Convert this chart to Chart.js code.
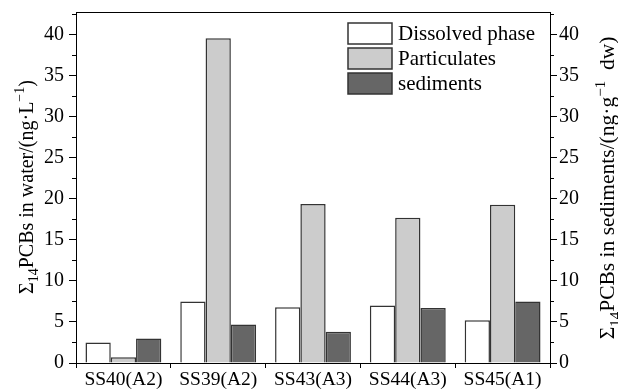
<!DOCTYPE html>
<html>
<head>
<meta charset="utf-8">
<script src="https://cdn.jsdelivr.net/npm/chart.js@4.4.0/dist/chart.umd.min.js"></script>
<style>
html, body { margin: 0; padding: 0; background: #fff; }
</style>
</head>
<body>
<canvas id="myChart" width="618" height="390"></canvas>
<script>
const sites = ['SS40(A2)', 'SS39(A2)', 'SS43(A3)', 'SS44(A3)', 'SS45(A1)'];
const dissolved = [2.5, 7.5, 6.8, 7.0, 5.2];
const particulates = [0.7, 39.6, 19.4, 17.7, 19.3];
const sediments = [3.0, 4.7, 3.8, 6.7, 7.5];
const seriesNames = ['Dissolved phase', 'Particulates', 'sediments'];
const majorTicks = [0, 5, 10, 15, 20, 25, 30, 35, 40];
const minorTicks = [2.5, 7.5, 12.5, 17.5, 22.5, 27.5, 32.5, 37.5, 42.5];
const yMax = 42.8;

const serif = '"Liberation Serif", "Times New Roman", serif';

// left / right titles, with sub and superscript parts
const leftTitle = [
	{ t: 'Σ' }, { t: '14', k: 'sub' }, { t: 'PCBs in water/(ng·L' }, { t: '−1', k: 'sup' }, { t: ')' }
];
const rightTitle = [
	{ t: 'Σ' }, { t: '14', k: 'sub' }, { t: 'PCBs in sediments/(ng·g' }, { t: '−1', k: 'sup' }, { t: '  dw)' }
];

function drawTitle(ctx, x, y, parts, size) {
	ctx.save();
	ctx.translate(x, y);
	ctx.rotate(-Math.PI / 2);
	ctx.fillStyle = '#000';
	ctx.textBaseline = 'alphabetic';
	ctx.textAlign = 'left';
	const fontOf = p => (p.k ? Math.round(size * 0.68) : size) + 'px ' + serif;
	let total = 0;
	parts.forEach(p => { ctx.font = fontOf(p); total += ctx.measureText(p.t).width; });
	let cx = -total / 2;
	parts.forEach(p => {
		ctx.font = fontOf(p);
		const dy = p.k === 'sub' ? size * 0.28 : (p.k === 'sup' ? -size * 0.42 : 0);
		ctx.fillText(p.t, cx, dy);
		cx += ctx.measureText(p.t).width;
	});
	ctx.restore();
}

const extras = {
	id: 'extras',
	afterDraw(chart) {
		const ctx = chart.ctx;
		const area = chart.chartArea;
		ctx.save();
		ctx.strokeStyle = '#000';
		ctx.lineWidth = 1;
		// top frame
		ctx.beginPath();
		ctx.moveTo(area.left, area.top + 0.5);
		ctx.lineTo(area.right, area.top + 0.5);
		ctx.stroke();
		// minor ticks
		['y', 'y2'].forEach(id => {
			const s = chart.scales[id];
			minorTicks.forEach(v => {
				const py = Math.round(s.getPixelForValue(v)) + 0.5;
				ctx.beginPath();
				if (id === 'y') { ctx.moveTo(area.left - 4, py); ctx.lineTo(area.left, py); }
				else { ctx.moveTo(area.right, py); ctx.lineTo(area.right + 4, py); }
				ctx.stroke();
			});
		});
		ctx.restore();

		// legend inside plot, top right
		ctx.save();
		chart.data.datasets.forEach((ds, i) => {
			const bx = 348, by = 23 + i * 25;
			ctx.fillStyle = ds.backgroundColor;
			ctx.fillRect(bx, by, 44, 21);
			ctx.strokeStyle = ds.borderColor;
			ctx.lineWidth = 1.5;
			ctx.strokeRect(bx, by, 44, 21);
			ctx.fillStyle = '#000';
			ctx.font = '21px ' + serif;
			ctx.textBaseline = 'middle';
			ctx.fillText(ds.label, bx + 50, by + 11);
		});
		ctx.restore();

		drawTitle(ctx, 32.5, 187, leftTitle, 20);
		drawTitle(ctx, 614, 188, rightTitle, 21.5);
	}
};

const yTickStyle = {
	color: '#000',
	font: { family: serif, size: 20 }
};

function fixY(width) {
	return s => { s.width = width; s.paddingTop = 12; s.paddingBottom = 0; };
}

const ctx = document.getElementById('myChart').getContext('2d');
const myChart = new Chart(ctx, {
	type: 'bar',
	data: {
		labels: sites,
		datasets: [{
			label: seriesNames[0],
			data: dissolved,
			backgroundColor: '#ffffff',
			borderColor: '#333333'
		}, {
			label: seriesNames[1],
			data: particulates,
			backgroundColor: '#cccccc',
			borderColor: '#333333'
		}, {
			label: seriesNames[2],
			data: sediments,
			backgroundColor: '#666666',
			borderColor: '#333333'
		}]
	},
	options: {
		responsive: false,
		animation: false,
		layout: { padding: 0 },
		datasets: {
			bar: {
				categoryPercentage: 0.8,
				barPercentage: 1.0,
				borderWidth: 1.5
			}
		},
		plugins: {
			legend: { display: false },
			tooltip: { enabled: false }
		},
		scales: {
			x: {
				offset: true,
				grid: { offset: true, drawOnChartArea: false, tickLength: 5, color: '#000' },
				border: { color: '#000', width: 1 },
				ticks: { color: '#000', padding: 0, font: { family: serif, size: 19.5 } },
				afterFit: s => { s.height = 27; s.paddingLeft = 0; s.paddingRight = 0; }
			},
			y: {
				position: 'left',
				min: 0,
				max: yMax,
				grid: { drawOnChartArea: false, tickLength: 7, color: '#000' },
				border: { color: '#000', width: 1 },
				ticks: Object.assign({ padding: 5 }, yTickStyle),
				afterBuildTicks: s => { s.ticks = majorTicks.map(v => ({ value: v })); },
				afterFit: fixY(76)
			},
			y2: {
				position: 'right',
				min: 0,
				max: yMax,
				grid: { drawOnChartArea: false, tickLength: 7, color: '#000' },
				border: { color: '#000', width: 1 },
				ticks: Object.assign({ padding: 2 }, yTickStyle),
				afterBuildTicks: s => { s.ticks = majorTicks.map(v => ({ value: v })); },
				afterFit: fixY(68)
			}
		}
	},
	plugins: [extras]
});
</script>
</body>
</html>
